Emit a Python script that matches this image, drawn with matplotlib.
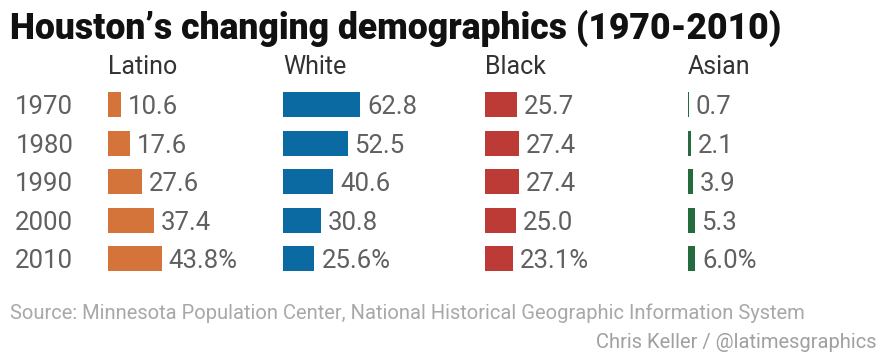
import matplotlib.pyplot as plt
import numpy as np

years = ["1970", "1980", "1990", "2000", "2010"]
groups = ["Latino", "White", "Black", "Asian"]
latino = [10.6, 17.6, 27.6, 37.4, 43.8]
white = [62.8, 52.5, 40.6, 30.8, 25.6]
black = [25.7, 27.4, 27.4, 25.0, 23.1]
asian = [0.7, 2.1, 3.9, 5.3, 6.0]
colors = ["#d4743a", "#0a6aa1", "#bc3b37", "#256b3e"]

W, H = 884, 359
PX_PER_UNIT = 1.23
col_left_px = [108, 283, 485, 688]
col_width_px = 170
row_top_px, row_step_px = 85.5, 38.5

fig = plt.figure(figsize=(W / 100, H / 100), dpi=100)
fig.patch.set_facecolor("white")

body_font = "Roboto"
label_gray = "#606060"

y = np.arange(len(years))
ax_h = row_step_px * len(years) / H
ax_bottom = 1 - (row_top_px + row_step_px * len(years)) / H

for i, (name, vals, c) in enumerate(zip(groups, [latino, white, black, asian], colors)):
    ax = fig.add_axes([col_left_px[i] / W, ax_bottom, col_width_px / W, ax_h])
    ax.barh(y, vals, height=0.65, color=c, linewidth=0)
    ax.set_xlim(0, col_width_px / PX_PER_UNIT)
    ax.set_ylim(len(years) - 0.5, -0.5)
    for j, v in enumerate(vals):
        txt = f"{v:.1f}%" if j == len(vals) - 1 else f"{v:.1f}"
        ax.annotate(txt, (v, j), xytext=(5, 0), textcoords="offset points",
                    va="center_baseline", ha="left", fontsize=18.5,
                    color=label_gray, family=body_font)
    ax.text(0, 1.11, name, transform=ax.transAxes, ha="left", va="center_baseline",
            fontsize=18, color="#333333", family=body_font)
    for s in ax.spines.values():
        s.set_visible(False)
    ax.set_xticks([])
    if i == 0:
        ax.set_yticks(y, years, fontsize=18.5, color=label_gray, family=body_font)
        ax.tick_params(axis="y", length=0, pad=25)
        for lbl in ax.get_yticklabels():
            lbl.set_va("center_baseline")
    else:
        ax.set_yticks([])
    ax.patch.set_alpha(0)

fig.text(10 / W, 1 - 39 / H, "Houston’s changing demographics (1970-2010)",
         ha="left", va="baseline", fontsize=25.6, fontweight="heavy",
         fontstretch="condensed", family="Roboto", color="#111111")
fig.text(10 / W, 1 - 313 / H,
         "Source: Minnesota Population Center, National Historical Geographic Information System",
         ha="left", va="center", fontsize=14.5, fontstretch="condensed",
         family="Roboto", color="#a8a8a8")
fig.text(876 / W, 1 - 343 / H, "Chris Keller / @latimesgraphics",
         ha="right", va="center", fontsize=14.5, fontstretch="condensed",
         family="Roboto", color="#a0a0a0")

fig.savefig("out.png", dpi=100)
